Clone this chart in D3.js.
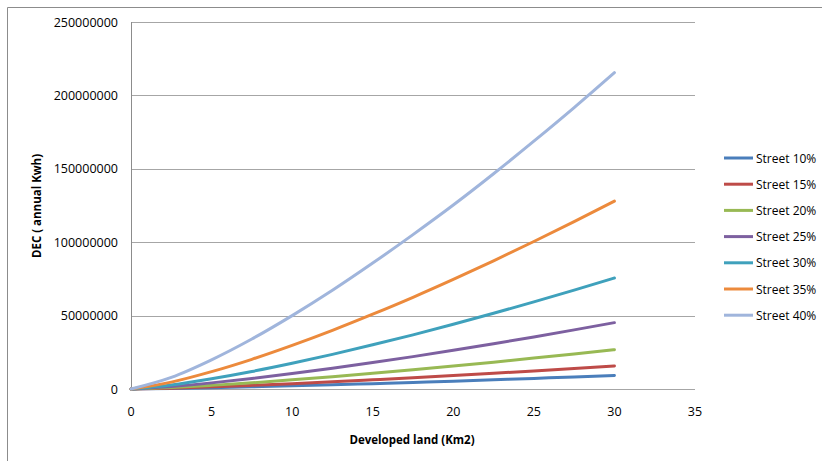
<!DOCTYPE html>
<html>
<head>
<meta charset="utf-8">
<script src="https://cdn.jsdelivr.net/npm/d3@7"></script>
<style>
  body { margin: 0; background: #fff; }
  text { font-family: "Open Sans", "Liberation Sans", sans-serif; fill: #000; }
</style>
</head>
<body>
<div id="chart"></div>
<script>
// developed land (km2)
var land = [0, 2.5, 5, 7.5, 10, 12.5, 15, 17.5, 20, 22.5, 25, 27.5, 30];

// DEC values, in millions of kwh
var street10 = [0, 0.34, 0.85, 1.45, 2.13, 2.87, 3.66, 4.49, 5.36, 6.27, 7.22, 8.20, 9.2];
var street15 = [0, 0.58, 1.45, 2.48, 3.64, 4.90, 6.25, 7.66, 9.15, 10.71, 12.32, 13.99, 15.7];
var street20 = [0, 0.98, 2.47, 4.23, 6.22, 8.36, 10.67, 13.08, 15.62, 18.28, 21.04, 23.88, 26.8];
var street25 = [0, 1.66, 4.17, 7.14, 10.49, 14.10, 17.99, 22.06, 26.35, 30.83, 35.48, 40.27, 45.2];
var street30 = [0, 2.77, 6.98, 11.94, 17.54, 23.59, 30.09, 36.89, 44.07, 51.56, 59.35, 67.36, 75.6];
var street35 = [0, 4.70, 11.81, 20.22, 29.70, 39.94, 50.94, 62.46, 74.62, 87.30, 100.48, 114.05, 128];
var street40 = [0, 7.91, 19.89, 34.05, 50.00, 67.24, 85.77, 105.16, 125.3, 146.6, 168.8, 191.7, 215.5];

var seriesNames = ["Street 10%", "Street 15%", "Street 20%", "Street 25%", "Street 30%", "Street 35%", "Street 40%"];
var seriesValues = [street10, street15, street20, street25, street30, street35, street40];
var colors = ["#4a7ebb", "#be4b48", "#98b954", "#7d60a0", "#3fa1bc", "#ec8a3c", "#a0b5dc"];

var xTicks = [0, 5, 10, 15, 20, 25, 30, 35];
var yTicks = [0, 50000000, 100000000, 150000000, 200000000, 250000000];

var w = 822, h = 461;
var svg = d3.select("#chart").append("svg")
  .attr("width", w)
  .attr("height", h);

// outer frame (top and left edges show)
svg.append("path")
  .attr("d", "M7.5," + h + "V7.5H" + w)
  .attr("fill", "none")
  .attr("stroke", "#8c8c8c")
  .attr("stroke-width", 1);

var x = d3.scaleLinear().domain([0, 35]).range([131, 695]);
var y = d3.scaleLinear().domain([0, 250000000]).range([389, 22]);

// gridlines
svg.append("g").selectAll("line")
  .data(yTicks)
  .enter()
  .append("line")
  .attr("x1", x(0))
  .attr("x2", x(35))
  .attr("y1", function(d) { return Math.round(y(d)) + 0.5; })
  .attr("y2", function(d) { return Math.round(y(d)) + 0.5; })
  .attr("stroke", "#a6a6a6")
  .attr("stroke-width", 1);

// y axis line
svg.append("line")
  .attr("x1", x(0) + 0.5).attr("x2", x(0) + 0.5)
  .attr("y1", y(250000000)).attr("y2", y(0))
  .attr("stroke", "#8c8c8c");

// tick labels
svg.append("g").selectAll("text")
  .data(yTicks)
  .enter()
  .append("text")
  .attr("x", 118)
  .attr("y", function(d) { return y(d) + 4.5; })
  .attr("text-anchor", "end")
  .attr("font-size", "12.5px")
  .text(function(d) { return d; });

svg.append("g").selectAll("text")
  .data(xTicks)
  .enter()
  .append("text")
  .attr("x", function(d) { return x(d); })
  .attr("y", 416)
  .attr("text-anchor", "middle")
  .attr("font-size", "12.5px")
  .text(function(d) { return d; });

// axis titles
svg.append("text")
  .attr("x", 412)
  .attr("y", 444)
  .attr("text-anchor", "middle")
  .attr("font-size", "11.5px")
  .attr("font-weight", "bold")
  .text("Developed land (Km2)");

svg.append("text")
  .attr("transform", "translate(41,206) rotate(-90)")
  .attr("text-anchor", "middle")
  .attr("font-size", "11.5px")
  .attr("font-weight", "bold")
  .text("DEC ( annual  Kwh)");

// lines
var line = d3.line()
  .x(function(d, i) { return x(land[i]); })
  .y(function(d) { return y(d * 1000000); })
  .curve(d3.curveMonotoneX);

svg.append("g").selectAll("path")
  .data(seriesValues)
  .enter()
  .append("path")
  .attr("d", line)
  .attr("fill", "none")
  .attr("stroke", function(d, i) { return colors[i]; })
  .attr("stroke-width", 3)
  .attr("stroke-linecap", "round");

// legend
var lg = svg.append("g").selectAll("g")
  .data(seriesNames)
  .enter()
  .append("g")
  .attr("transform", function(d, i) { return "translate(724," + (158 + i * 26.2) + ")"; });

lg.append("line")
  .attr("x1", 0).attr("x2", 29)
  .attr("stroke", function(d, i) { return colors[i]; })
  .attr("stroke-width", 3);

lg.append("text")
  .attr("x", 32)
  .attr("y", 4.5)
  .attr("font-size", "12px")
  .text(function(d) { return d; });
</script>
</body>
</html>
